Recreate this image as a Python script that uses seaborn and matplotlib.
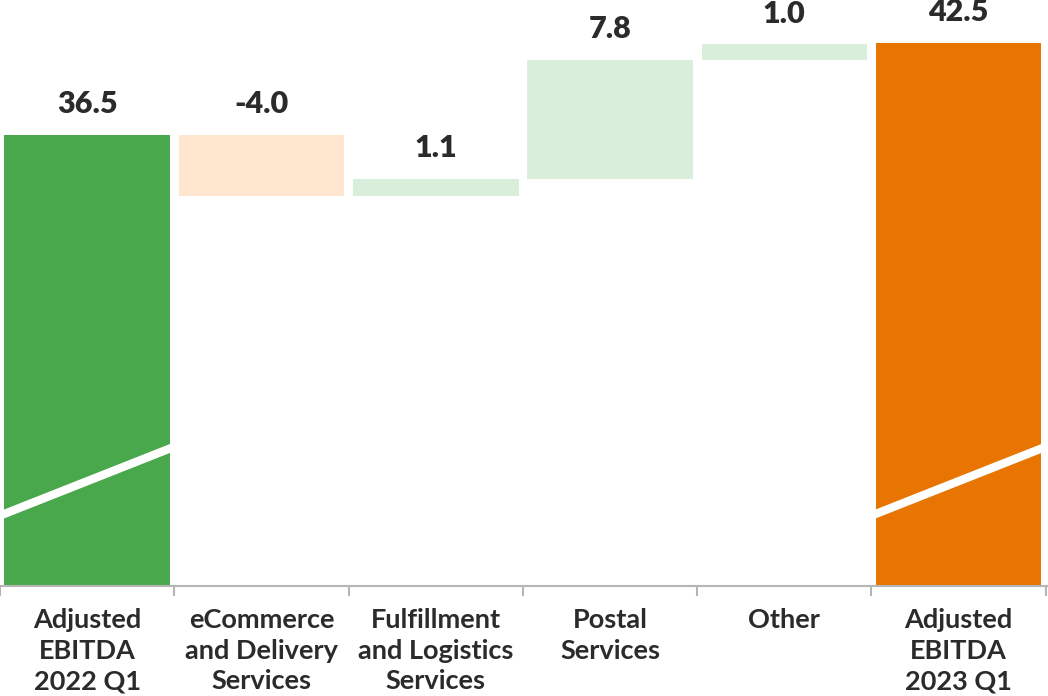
import matplotlib
matplotlib.use("Agg")
import matplotlib.pyplot as plt
import numpy as np
import pandas as pd
import seaborn as sns

# ---------------------------------------------------------------------------
# Data
# ---------------------------------------------------------------------------
categories = [
    "Adjusted\nEBITDA\n2022 Q1",
    "eCommerce\nand Delivery\nServices",
    "Fulfillment\nand Logistics\nServices",
    "Postal\nServices",
    "Other",
    "Adjusted\nEBITDA\n2023 Q1",
]
start_value = 36.5
deltas = [-4.0, 1.1, 7.8, 1.0]
end_value = 42.5
labels = ["36.5", "-4.0", "1.1", "7.8", "1.0", "42.5"]

# broken axis: visible range starts above zero
y_min, y_max = 7.0, 45.3

GREEN = "#4aa84c"
ORANGE = "#e87502"
LIGHT_GREEN = "#daeedc"
LIGHT_ORANGE = "#ffe6ce"
TEXT = "#2b2b2b"

# ---------------------------------------------------------------------------
# Waterfall geometry
# ---------------------------------------------------------------------------
cum = start_value + np.cumsum([0.0] + deltas)
bottoms = [y_min] + [min(cum[i], cum[i + 1]) for i in range(len(deltas))] + [y_min]
tops = [start_value] + [max(cum[i], cum[i + 1]) for i in range(len(deltas))] + [end_value]
colors = [GREEN] + [LIGHT_GREEN if d >= 0 else LIGHT_ORANGE for d in deltas] + [ORANGE]

df = pd.DataFrame({
    "category": categories,
    "bottom": bottoms,
    "height": np.array(tops) - np.array(bottoms),
})

sns.set_theme(style="white")
plt.rcParams["font.family"] = ["Lato", "DejaVu Sans"]

fig = plt.figure(figsize=(10.48, 6.96), dpi=100)
ax = fig.add_axes([0.0, 1 - 586 / 696, 1.0, 586 / 696])

sns.barplot(data=df, x="category", y="height", bottom=df["bottom"].values,
            width=0.95, ax=ax, color=GREEN, linewidth=0, saturation=1)
for patch, c in zip(ax.patches, colors):
    patch.set_facecolor(c)
    patch.set_edgecolor("none")

ax.set_xlim(-0.487, len(categories) - 0.487)
ax.set_ylim(y_min, y_max)

# value labels above each bar
for i, (top, lab) in enumerate(zip(tops, labels)):
    ax.annotate(lab, (i, top), xytext=(0, 12), textcoords="offset points",
                ha="center", va="bottom", fontsize=22, fontweight="heavy",
                color=TEXT)

# axis break marks on the total bars
for i in (0, len(categories) - 1):
    ax.plot([i - 0.5, i + 0.5], [11.6, 16.1], color="white", lw=6,
            solid_capstyle="butt", zorder=5)

# axes styling
sns.despine(ax=ax, left=True, top=True, right=True)
ax.spines["bottom"].set_color("#b5b5b5")
ax.spines["bottom"].set_linewidth(1.5)
ax.set_yticks([])
ax.set_xlabel("")
ax.set_ylabel("")
ax.set_xticks(np.arange(len(categories)))
ax.set_xticklabels(categories, fontsize=19.5, fontweight="bold", color=TEXT,
                   linespacing=1.33)
ax.set_xticks(np.arange(len(categories) + 1) - 0.5, minor=True)
ax.tick_params(axis="x", which="major", length=0, pad=16)
ax.tick_params(axis="x", which="minor", length=7, width=1.5, color="#b5b5b5",
               bottom=True)
ax.grid(False)

fig.savefig("out.png", dpi=100)
plt.close(fig)
